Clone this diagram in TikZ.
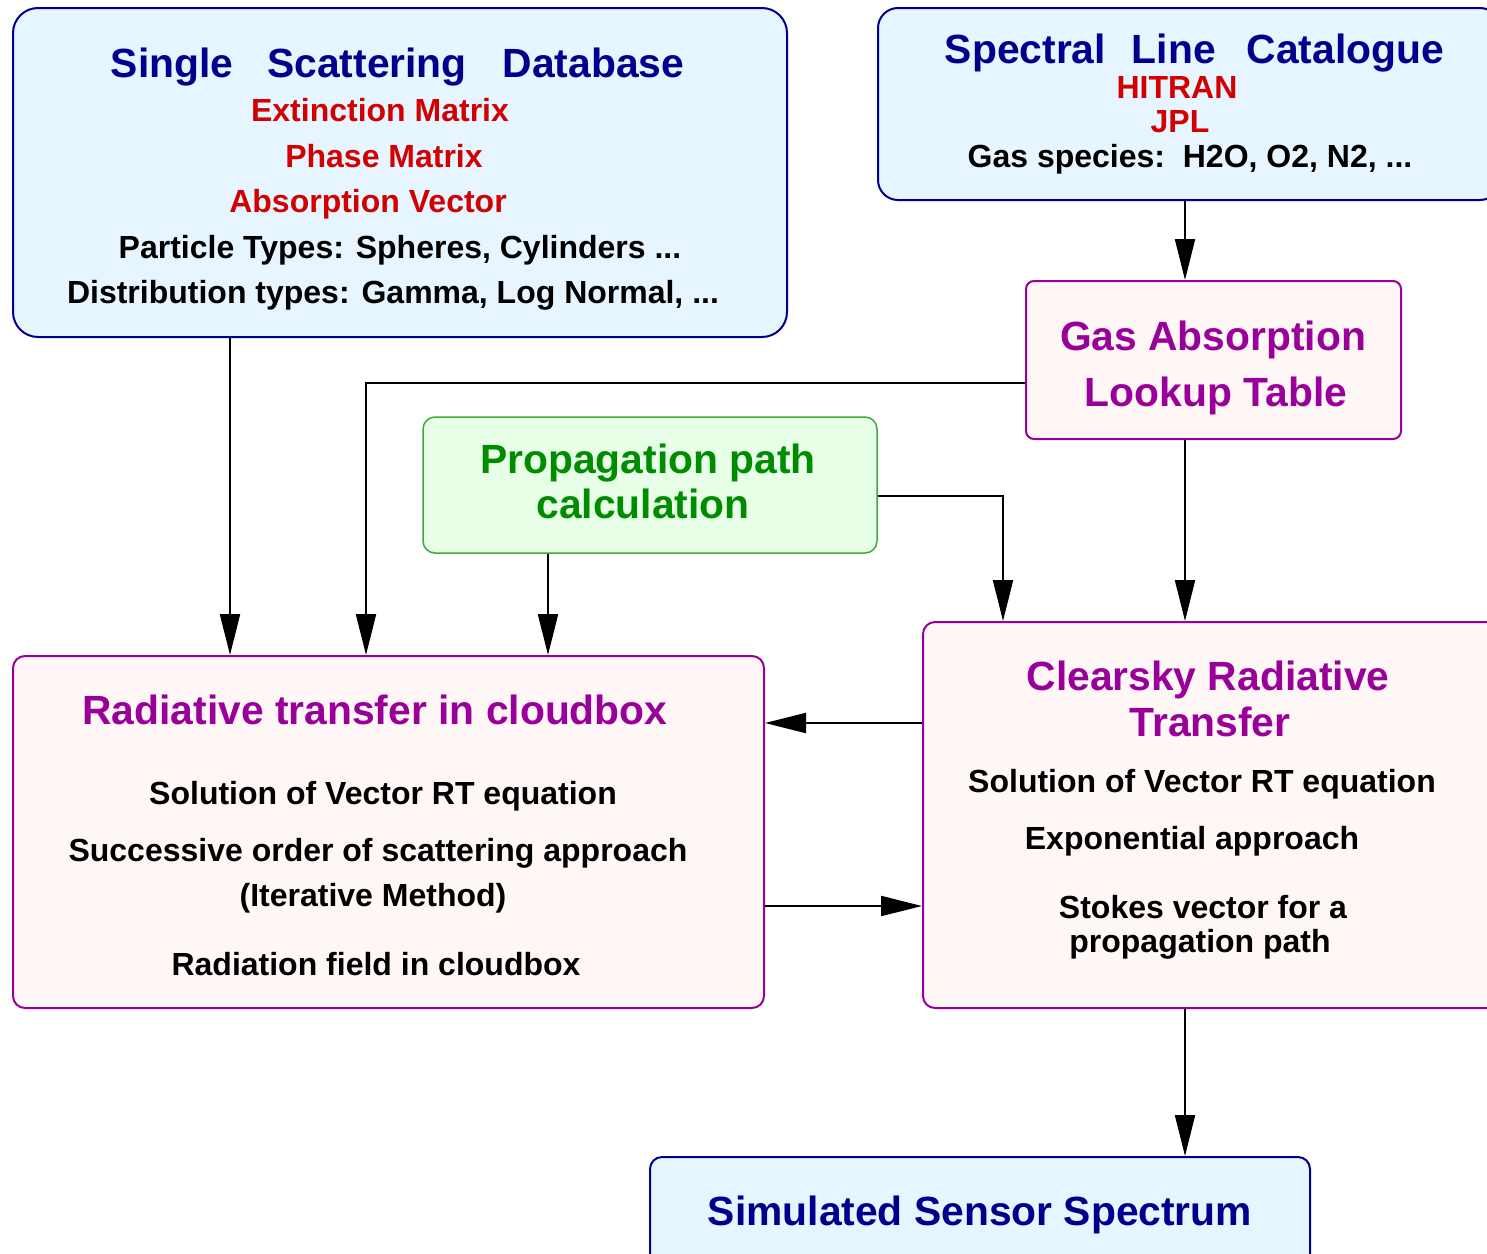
\documentclass[tikz,border=0pt]{standalone}
\usepackage{fontspec}
\setmainfont{Liberation Sans}
\usetikzlibrary{arrows.meta}
\definecolor{navy}{RGB}{0,0,140}
\definecolor{bluefill}{RGB}{230,245,255}
\definecolor{pinkfill}{RGB}{255,246,246}
\definecolor{purp}{RGB}{153,0,153}
\definecolor{greenfill}{RGB}{230,255,230}
\definecolor{greenline}{RGB}{60,170,60}
\definecolor{greentext}{RGB}{0,140,0}
\definecolor{redtext}{RGB}{210,0,0}
\begin{document}
\begin{tikzpicture}[x=1pt,y=-1pt,
  bluebox/.style={draw=navy,fill=bluefill,line width=2pt,inner sep=0pt},
  pinkbox/.style={draw=purp,fill=pinkfill,line width=2pt,inner sep=0pt,rounded corners=12pt},
  greenbox/.style={draw=greenline,fill=greenfill,line width=1.5pt,inner sep=0pt,rounded corners=12pt},
  ttl/.style={font=\fontsize{40.8}{48}\selectfont\bfseries,anchor=base,inner sep=0pt},
  txt/.style={font=\fontsize{32}{38}\selectfont\bfseries,anchor=base,inner sep=0pt},
  arr/.style={line width=2pt,-{Triangle[length=41pt,width=20pt]}}]
\useasboundingbox (0,0) rectangle (1487,1253);
\clip (0,0) rectangle (1487,1253);
\fill[white] (0,0) rectangle (1487,1253);
% boxes
\node[bluebox,rounded corners=25pt,minimum width=774pt,minimum height=329pt] (ssd) at (400,172.5) {};
\node[bluebox,rounded corners=20pt,minimum width=622pt,minimum height=192pt] (slc) at (1189,104) {};
\node[pinkbox,rounded corners=8pt,minimum width=375pt,minimum height=158pt] (gal) at (1213.5,360) {};
\node[greenbox,minimum width=454pt,minimum height=136pt] (ppc) at (650,485) {};
\node[pinkbox,minimum width=751pt,minimum height=352pt] (rtc) at (388.5,832) {};
\node[pinkbox,minimum width=577pt,minimum height=386pt] (crt) at (1211.5,815) {};
\node[bluebox,rounded corners=12pt,minimum width=660pt,minimum height=113pt] (sss) at (980,1213.5) {};
% texts: single scattering database
\node[ttl,text=navy] (ssdt) at (397.5,77) {Single\hspace{34pt}Scattering\hspace{36pt}Database};
\node[txt,text=redtext] (ext) at (380,121) {Extinction Matrix};
\node[txt,text=redtext] (pha) at (384,167) {Phase Matrix};
\node[txt,text=redtext] (abv) at (368,212) {Absorption Vector};
\node[txt] (pty) at (400,258) {Particle Types: Spheres, Cylinders ...};
\node[txt] (dty) at (393,303) {Distribution types: Gamma, Log Normal, ...};
% spectral line catalogue
\node[ttl,text=navy] (slct) at (1194.5,63) {Spectral\hspace{26pt}Line\hspace{31pt}Catalogue};
\node[txt,text=redtext] (hit) at (1177,98) {HITRAN};
\node[txt,text=redtext] (jpl) at (1180,132) {JPL};
\node[txt] (gsp) at (1190,167) {Gas species:\ \ H2O, O2, N2, ...};
% gas absorption
\node[ttl,text=purp] (galt1) at (1213,350) {Gas Absorption};
\node[ttl,text=purp] (galt2) at (1216,406) {Lookup Table};
% propagation path
\node[ttl,text=greentext] (ppt1) at (648,473) {Propagation path};
\node[ttl,text=greentext] (ppt2) at (643,518) {calculation};
% radiative transfer in cloudbox
\node[ttl,text=purp] (rtct) at (375,724) {Radiative transfer in cloudbox};
\node[txt] (rtc1) at (383,804) {Solution of Vector RT equation};
\node[txt] (rtc2) at (378,861) {Successive order of scattering approach};
\node[txt] (rtc3) at (373,906) {(Iterative Method)};
\node[txt] (rtc4) at (376,975) {Radiation field in cloudbox};
% clearsky
\node[ttl,text=purp] (crtt1) at (1208,690) {Clearsky Radiative};
\node[ttl,text=purp] (crtt2) at (1210,736) {Transfer};
\node[txt] (crt1) at (1202,792) {Solution of Vector RT equation};
\node[txt] (crt2) at (1192,849) {Exponential approach};
\node[txt] (crt3) at (1203,918) {Stokes vector for a};
\node[txt] (crt4) at (1200,952) {propagation path};
% simulated sensor spectrum
\node[ttl,text=navy] (ssst) at (980,1225) {Simulated Sensor Spectrum};
% connector helper coordinates
\coordinate (xa) at (230,0);
\coordinate (xb) at (366,0);
\coordinate (xc) at (548,0);
\coordinate (xd) at (1003,0);
\coordinate (xe) at (1185,0);
\coordinate (ya) at (0,383);
\coordinate (yb) at (0,496);
\coordinate (yc) at (0,723);
\coordinate (yd) at (0,906);
% connectors
\draw[arr] (ssd.south -| xa) -- (rtc.north -| xa);
\draw[arr] (gal.west |- ya) -| (rtc.north -| xb);
\draw[arr] (ppc.south -| xc) -- (rtc.north -| xc);
\draw[arr] (ppc.east |- yb) -| (crt.north -| xd);
\draw[arr] (slc.south -| xe) -- (gal.north -| xe);
\draw[arr] (gal.south -| xe) -- (crt.north -| xe);
\draw[arr] (crt.west |- yc) -- (rtc.east |- yc);
\draw[arr] (rtc.east |- yd) -- (crt.west |- yd);
\draw[arr] (crt.south -| xe) -- (sss.north -| xe);
\end{tikzpicture}
\end{document}
